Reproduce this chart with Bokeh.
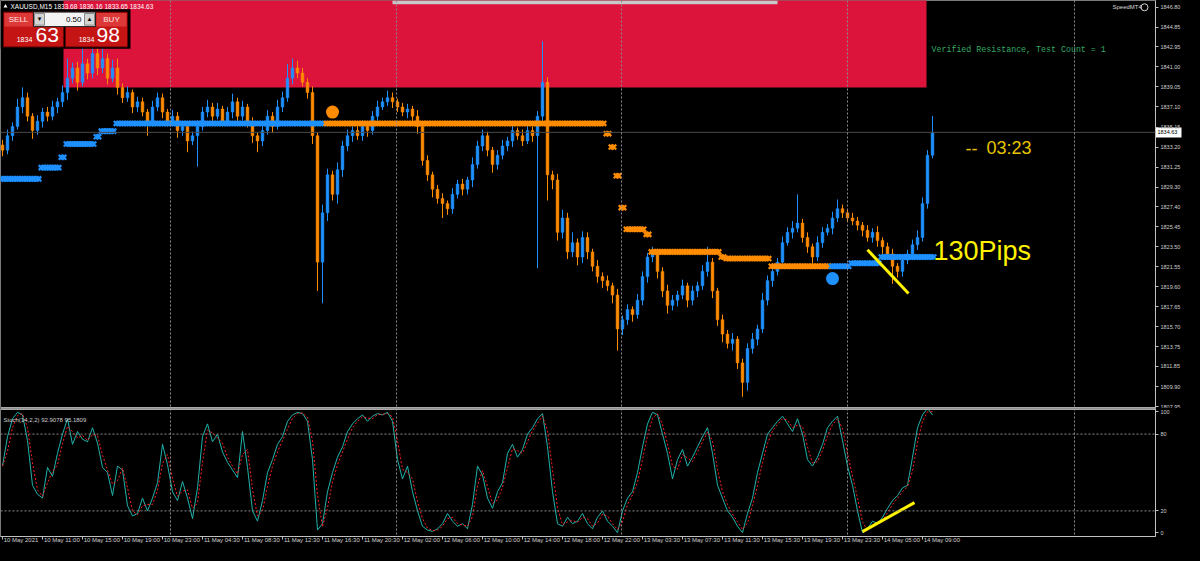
from bokeh.plotting import figure
from bokeh.layouts import column
from bokeh.models import (ColumnDataSource, Range1d, FixedTicker, NumeralTickFormatter, Label,
                          Span, LinearAxis)
from bokeh.core.properties import value
from bokeh.embed import file_html
from bokeh.resources import INLINE

# ---------------- data ----------------
symbol_header = "XAUUSD,M15  1833.68 1836.16 1833.65 1834.63"
first_open = 1833.4
close = [
    1832.9, 1834.3, 1835.2, 1837.1, 1838.0, 1836.2, 1834.8, 1835.7, 1836.6, 1836.2,
    1837.1, 1837.6, 1838.5, 1839.9, 1840.9, 1839.5, 1841.3, 1840.4, 1842.3, 1840.9,
    1841.8, 1839.9, 1840.9, 1839.0, 1838.0, 1838.5, 1837.1, 1837.6, 1836.6, 1835.7,
    1837.1, 1838.0, 1836.6, 1835.7, 1836.2, 1834.8, 1835.2, 1833.8, 1834.3, 1835.2,
    1836.6, 1837.1, 1836.2, 1836.9, 1835.7, 1836.6, 1837.6, 1836.2, 1837.1, 1835.7,
    1834.3, 1833.8, 1834.8, 1836.2, 1835.2, 1837.1, 1838.0, 1839.9, 1840.9, 1840.4,
    1839.5, 1838.5, 1834.3, 1822.0, 1826.8, 1830.5, 1828.6, 1831.0, 1833.3, 1834.3,
    1834.8, 1834.3, 1835.2, 1834.8, 1836.2, 1837.1, 1837.6, 1838.0, 1837.6, 1837.1,
    1836.6, 1836.9, 1836.2, 1835.2, 1831.9, 1830.5, 1829.1, 1828.2, 1827.7, 1827.2,
    1828.6, 1829.6, 1829.1, 1830.0, 1831.5, 1833.3, 1834.3, 1832.9, 1831.5, 1832.4,
    1833.3, 1833.8, 1834.8, 1834.3, 1833.8, 1834.8, 1834.3, 1836.2, 1839.5, 1830.5,
    1830.0, 1824.9, 1826.3, 1823.0, 1823.9, 1822.5, 1824.4, 1823.0, 1821.6, 1820.6,
    1820.2, 1819.7, 1818.8, 1815.5, 1816.4, 1817.4, 1816.9, 1818.3, 1820.6, 1822.5,
    1823.0, 1821.1, 1819.2, 1817.8, 1818.3, 1818.8, 1819.7, 1818.3, 1819.2, 1819.7,
    1821.1, 1822.0, 1819.2, 1816.4, 1815.0, 1814.1, 1814.5, 1812.2, 1810.3, 1813.6,
    1814.5, 1815.5, 1818.3, 1820.2, 1821.1, 1822.0, 1823.9, 1824.9, 1825.3, 1825.8,
    1824.4, 1823.5, 1822.5, 1823.9, 1824.9, 1825.3, 1826.3, 1827.2, 1826.8, 1826.3,
    1826.0, 1825.6, 1825.1, 1824.4, 1824.9, 1824.1, 1823.5, 1822.8, 1821.6, 1821.1,
    1822.2, 1822.8, 1823.7, 1824.4, 1827.7, 1832.4, 1834.63,
]
wick_up = [
    0.5, 0.6, 0.4, 0.8, 1.0, 0.5, 0.3, 0.6, 0.4, 0.5,
    0.6, 0.4, 0.7, 1.9, 0.5, 0.6, 1.9, 0.5, 1.4, 0.6,
    1.4, 0.5, 0.8, 0.9, 0.4, 0.6, 0.3, 0.5, 0.4, 0.3,
    0.6, 0.5, 0.4, 0.3, 0.6, 0.4, 0.5, 0.3, 0.4, 0.6,
    0.5, 0.7, 0.4, 0.6, 0.3, 0.5, 0.8, 0.4, 0.6, 0.3,
    0.4, 0.3, 0.5, 0.6, 0.4, 0.7, 0.6, 1.4, 0.9, 0.7,
    0.5, 0.4, 0.6, 0.3, 0.8, 0.6, 0.4, 0.7, 0.5, 0.6,
    0.4, 0.5, 0.6, 0.4, 0.5, 0.6, 0.4, 0.7, 0.5, 0.3,
    0.4, 0.5, 0.3, 0.6, 0.4, 0.5, 0.3, 0.4, 0.5, 0.3,
    0.6, 0.4, 0.5, 0.3, 0.7, 0.5, 0.6, 0.4, 0.3, 0.5,
    0.6, 0.4, 0.5, 0.3, 0.6, 0.7, 0.4, 0.5, 4.0, 0.5,
    0.4, 0.6, 0.8, 0.5, 1.0, 0.4, 0.6, 0.5, 0.3, 0.6,
    0.4, 0.5, 0.3, 0.6, 0.4, 0.5, 0.3, 0.6, 0.5, 0.4,
    0.5, 0.3, 0.4, 0.6, 0.5, 0.4, 0.6, 0.3, 0.5, 0.4,
    0.6, 1.5, 0.4, 0.3, 0.5, 0.4, 0.6, 0.3, 0.4, 0.5,
    0.6, 0.4, 0.7, 0.5, 0.8, 0.4, 0.6, 0.5, 0.7, 2.8,
    0.4, 0.5, 0.3, 0.6, 0.5, 0.4, 0.6, 0.9, 0.4, 0.3,
    0.5, 0.4, 0.3, 0.5, 0.4, 0.6, 0.3, 0.4, 0.5, 0.3,
    0.6, 0.4, 0.5, 0.7, 0.6, 0.5, 1.6,
]
wick_dn = [
    0.6, 0.4, 0.5, 0.3, 0.6, 0.5, 0.8, 0.4, 0.6, 0.5,
    0.4, 0.6, 0.5, 0.7, 0.5, 0.8, 0.4, 0.6, 0.5, 0.7,
    0.5, 0.6, 0.4, 0.7, 0.5, 0.4, 0.6, 0.5, 0.4, 1.4,
    0.5, 0.4, 0.6, 0.5, 0.4, 0.7, 0.5, 1.1, 0.4, 3.0,
    0.4, 0.5, 0.6, 0.3, 0.5, 0.4, 0.6, 0.5, 0.4, 0.6,
    0.7, 1.1, 0.5, 0.4, 0.6, 0.3, 0.5, 0.4, 0.6, 0.5,
    0.4, 0.6, 0.8, 2.8, 4.0, 0.8, 0.6, 0.9, 0.7, 0.5,
    0.6, 0.4, 0.5, 0.6, 0.4, 0.5, 0.3, 0.4, 0.6, 0.5,
    0.4, 0.6, 0.5, 0.7, 0.5, 0.6, 0.8, 0.5, 1.4, 0.6,
    0.5, 0.4, 0.6, 0.5, 0.7, 0.4, 0.5, 0.6, 0.8, 0.5,
    0.4, 0.5, 0.6, 0.4, 0.5, 0.3, 0.6, 12.9, 0.5, 2.5,
    0.9, 0.8, 0.6, 0.7, 0.5, 0.8, 0.6, 0.7, 0.5, 0.6,
    0.7, 0.5, 0.8, 2.1, 0.6, 0.5, 0.7, 0.4, 0.5, 0.6,
    0.5, 0.7, 0.6, 0.8, 0.5, 0.6, 0.4, 0.7, 0.5, 0.6,
    0.4, 0.5, 0.7, 0.6, 0.8, 0.5, 0.7, 0.6, 1.4, 0.8,
    0.5, 0.6, 0.4, 0.5, 0.6, 0.4, 0.5, 0.3, 0.6, 0.4,
    0.5, 0.6, 0.7, 0.4, 0.5, 0.3, 0.6, 0.4, 0.5, 0.3,
    0.4, 0.5, 0.6, 0.4, 0.5, 0.6, 0.7, 0.5, 1.7, 0.6,
    0.5, 0.4, 0.6, 0.5, 0.4, 0.5, 0.3,
]
# trailing-stop "x" line: (first bar, last bar, level, trend)
stop_segments = [
    (0, 7, 1830.1, "up"), (8, 11, 1831.2, "up"), (12, 12, 1832.2, "up"),
    (13, 18, 1833.5, "up"), (19, 19, 1834.2, "up"), (20, 22, 1834.75, "up"),
    (23, 64, 1835.5, "up"), (65, 120, 1835.5, "down"), (121, 121, 1834.5, "down"),
    (122, 122, 1833.2, "down"), (123, 123, 1830.4, "down"), (124, 124, 1827.3, "down"),
    (125, 128, 1825.2, "down"), (129, 129, 1824.7, "down"), (130, 143, 1823.0, "down"),
    (144, 144, 1822.5, "down"), (145, 153, 1822.35, "down"), (154, 165, 1821.6, "down"),
    (166, 169, 1821.6, "up"), (170, 175, 1821.9, "up"), (176, 186, 1822.5, "up"),
]
signal_bars = [66, 166]
signal_prices = [1836.6, 1820.4]
signal_trend = ["down", "up"]
zone_first_bar, zone_last_bar = 12.2, 184.8
zone_low, zone_high = 1839.0, 1850.0
trendline_bars = [173, 181.2]
trendline_prices = [1823.2, 1818.95]
stoch_k = [
    55, 78, 92, 97, 95, 75, 40, 33, 30, 54,
    47, 65, 80, 92, 72, 82, 76, 74, 85, 73,
    54, 50, 32, 55, 52, 24, 16, 18, 30, 20,
    30, 42, 72, 56, 35, 28, 43, 30, 14, 38,
    78, 88, 74, 80, 66, 58, 52, 46, 82, 54,
    20, 12, 28, 50, 60, 72, 78, 90, 95, 97,
    96, 90, 60, 5, 10, 35, 50, 62, 70, 82,
    88, 92, 95, 90, 94, 96, 95, 97, 90, 60,
    45, 55, 35, 20, 8, 5, 4, 6, 10, 18,
    12, 8, 10, 6, 25, 55, 48, 30, 22, 35,
    42, 65, 72, 62, 68, 80, 85, 92, 96, 70,
    35, 10, 8, 15, 10, 12, 18, 10, 6, 15,
    20, 12, 8, 3, 20, 30, 35, 50, 70, 88,
    97, 95, 80, 65, 45, 60, 68, 55, 62, 70,
    78, 85, 65, 40, 30, 20, 15, 8, 3, 18,
    30, 50, 65, 80, 85, 90, 94, 88, 82, 92,
    80, 60, 55, 62, 72, 85, 90, 94, 75, 55,
    40, 20, 3, 6, 12, 10, 15, 22, 28, 32,
    38, 40, 62, 85, 95, 100, 95,
]
stoch_trend_bars = [172, 182.4]
stoch_trend_values = [3.8, 26.5]
day_separator_bars = [33.6, 78.8, 123.8, 169.0, 214.4]
price_ticks = [1807.95, 1809.90, 1811.85, 1813.75, 1815.70, 1817.65, 1819.60, 1821.55,
               1823.50, 1825.45, 1827.40, 1829.30, 1831.25, 1833.20, 1835.15, 1837.10,
               1839.05, 1841.00, 1842.95, 1844.85, 1846.80]
time_tick_bars = list(range(0, 185, 8))
time_labels = ["10 May 2021", "10 May 11:00", "10 May 15:00", "10 May 19:00", "10 May 23:00",
               "11 May 04:30", "11 May 08:30", "11 May 12:30", "11 May 16:30", "11 May 20:30",
               "12 May 02:00", "12 May 06:00", "12 May 10:00", "12 May 14:00", "12 May 18:00",
               "12 May 22:00", "13 May 03:30", "13 May 07:30", "13 May 11:30", "13 May 15:30",
               "13 May 19:30", "13 May 23:30", "14 May 05:00", "14 May 09:00"]

UP, DOWN = "#1E90FF", "#FF8C00"
FONT = value("Liberation Sans")
AXC = "#d0d0d0"
W_TOTAL, RIGHT_BORDER = 1184, 29
FRAME_W = 1145          # frame width after Bokeh sizes the price scale
X0, X1 = -0.4, 230.6
PX_PER_BAR = FRAME_W / (X1 - X0)
PRICE_AXIS_W = 28

# ---------------- derived ----------------
n = len(close)
bars = list(range(n))
opens = [first_open] + close[:-1]
tops = [max(o, c) for o, c in zip(opens, close)]
bots = [min(o, c) for o, c in zip(opens, close)]
highs = [t + w for t, w in zip(tops, wick_up)]
lows = [b - w for b, w in zip(bots, wick_dn)]
ccol = [UP if c >= o else DOWN for o, c in zip(opens, close)]
candles = ColumnDataSource(dict(x=bars, top=tops, bottom=bots, high=highs, low=lows, color=ccol))

# each 30-min slot holds two M15 stop markers
st_x, st_y, st_c = [], [], []
for a, b, lvl, tr in stop_segments:
    for i in range(a, b + 1):
        for h in (-0.25, 0.25):
            st_x.append(i + h); st_y.append(lvl); st_c.append(UP if tr == "up" else DOWN)

stoch_d = [(stoch_k[max(i - 1, 0)] + stoch_k[i]) / 2 for i in range(n)]

XR = Range1d(X0, X1)

def rx(px):  # reference-pixel helpers for panel chrome
    return (px - 2) / 5.0

def ry(py):
    return 1847.46 - py / 10.63

def style_axis(ax):
    ax.axis_line_color = "#c0c0c0"
    ax.major_tick_line_color = "#c0c0c0"
    ax.major_tick_out = 3
    ax.major_tick_in = 0
    ax.minor_tick_line_color = None
    ax.major_label_text_color = AXC
    ax.major_label_text_font_size = "5.5px"
    ax.major_label_text_font = "Liberation Sans"
    ax.major_label_standoff = 2

# ---------------- main price panel ----------------
p = figure(width=W_TOTAL, height=408, x_range=XR, y_range=Range1d(1807.76, 1847.46),
           output_backend="svg", toolbar_location=None, x_axis_location=None,
           y_axis_location="right", background_fill_color="black", border_fill_color="black",
           min_border_left=0, min_border_right=RIGHT_BORDER, min_border_top=0, min_border_bottom=0)
p.grid.visible = False
p.outline_line_color = "#7a7a7a"
ya = p.yaxis[0]
ya.ticker = FixedTicker(ticks=price_ticks)
ya.formatter = NumeralTickFormatter(format="0.00")
style_axis(ya)

# current-price tag: white bar (inner axis, tick drawn outward) + black text (outer axis)
last = close[-1]
tag_box = LinearAxis(ticker=FixedTicker(ticks=[last]), major_label_overrides={last: ""})
tag_box.axis_line_color = None
tag_box.minor_tick_line_color = None
tag_box.major_tick_line_color = "white"
tag_box.major_tick_line_width = 10
tag_box.major_tick_in = -26
tag_box.major_tick_out = 0
tag_box.major_label_standoff = 0
tag_box.major_label_text_font_size = "1px"
tag_txt = LinearAxis(ticker=FixedTicker(ticks=[last]), major_label_overrides={last: "%.2f" % last})
tag_txt.axis_line_color = None
tag_txt.minor_tick_line_color = None
tag_txt.major_tick_line_color = None
tag_txt.major_tick_in = 0
tag_txt.major_tick_out = 0
tag_txt.major_label_standoff = 2 - PRICE_AXIS_W
tag_txt.major_label_text_color = "black"
tag_txt.major_label_text_font_size = "5.5px"
tag_txt.major_label_text_font = "Liberation Sans"
p.right = [tag_box, ya, tag_txt]

p.quad(left=zone_first_bar, right=zone_last_bar, bottom=zone_low, top=zone_high,
       fill_color="#DC143C", line_color=None)
p.add_layout(Span(location=last, dimension="width", line_color="#4a4a4a", line_width=1))
for b in day_separator_bars:
    p.add_layout(Span(location=b, dimension="height", line_color="#8a8a8a",
                      line_dash="2 2", line_width=1))
p.add_layout(Span(location=1807.76, dimension="width", line_color="#a8a8a8", line_width=3))

p.segment(x0="x", y0="low", x1="x", y1="high", color="color", line_width=1, source=candles)
p.vbar(x="x", width=0.55, top="top", bottom="bottom", fill_color="color",
       line_color="color", line_width=0.5, source=candles)

p.scatter(st_x, st_y, marker="x", size=7, line_color=st_c, line_width=2.3)
p.scatter(signal_bars, signal_prices, marker="circle", size=13,
          fill_color=[UP if t == "up" else DOWN for t in signal_trend], line_color=None)
p.line(trendline_bars, trendline_prices, line_color="#FFF200", line_width=3)

p.text(x=[rx(931)], y=[ry(51)], text=["Verified Resistance, Test Count = 1"],
       text_font=value("Liberation Mono"), text_font_size="8.3px", text_color="#34A865",
       text_baseline="middle")
p.text(x=[rx(933)], y=[ry(259)], text=["130Pips"], text_font=FONT, text_font_size="27px",
       text_color="#FFF200", text_baseline="alphabetic")
p.text(x=[rx(965)], y=[ry(153)], text=["--"], text_font=FONT, text_font_size="18px",
       text_color="#E8C400", text_baseline="middle")
p.text(x=[rx(986)], y=[ry(153)], text=["03:23"], text_font=FONT, text_font_size="18px",
       text_color="#E8C400", text_baseline="middle")

# top bar and SpeedMT4 tag
p.quad(left=rx(392), right=rx(777), top=ry(0), bottom=ry(4), fill_color="#c8c8c8", line_color=None)
p.text(x=[rx(1112)], y=[ry(7)], text=["SpeedMT4"], text_font=FONT, text_font_size="6px",
       text_color="#d8d8d8", text_baseline="middle")
p.scatter([rx(1144)], [ry(7)], marker="circle", size=7, fill_color=None, line_color="#d8d8d8")

# one-click trading widget
p.quad(left=rx(0), right=rx(130), top=ry(9), bottom=ry(50), fill_color="black", line_color=None)
p.quad(left=[rx(3), rx(65)], right=[rx(63), rx(127)], top=ry(12), bottom=ry(48),
       fill_color="#C41414", line_color="#6a0000")
p.quad(left=[rx(4), rx(96)], right=[rx(32), rx(126)], top=ry(13), bottom=ry(27),
       fill_color="#DD3838", line_color=None)
p.quad(left=rx(33), right=rx(95), top=ry(12), bottom=ry(27), fill_color="#F4F4F4", line_color="#202020")
p.quad(left=[rx(34), rx(84)], right=[rx(44), rx(94)], top=ry(13.5), bottom=ry(25.5),
       fill_color="#D4D4D4", line_color="#8a8a8a")
p.text(x=[rx(39), rx(89)], y=[ry(19.5), ry(19.5)], text=["▾", "▴"], text_font=value("DejaVu Sans"),
       text_font_size="7px", text_color="black", text_align="center", text_baseline="middle")
p.text(x=[rx(81)], y=[ry(19.5)], text=["0.50"], text_font=FONT, text_font_size="8px",
       text_color="black", text_align="right", text_baseline="middle")
p.text(x=[rx(18), rx(111)], y=[ry(19.5), ry(19.5)], text=["SELL", "BUY"], text_font=FONT,
       text_font_size="8px", text_color="#ffe6e6", text_align="center", text_baseline="middle")
p.text(x=[rx(24), rx(86)], y=[ry(40), ry(40)], text=["1834", "1834"], text_font=FONT,
       text_font_size="7px", text_color="white", text_align="center", text_baseline="middle")
p.text(x=[rx(35), rx(96)], y=[ry(36), ry(36)], text=["63", "98"], text_font=FONT,
       text_font_size="21px", text_color="white", text_align="left", text_baseline="middle")
p.scatter([rx(5)], [ry(6)], marker="triangle", size=4, fill_color="white", line_color=None)
p.text(x=[rx(10)], y=[ry(6)], text=[symbol_header], text_font=FONT, text_font_size="6.5px",
       text_color="white", text_baseline="middle")

# ---------------- stochastic panel ----------------
s = figure(width=W_TOTAL, height=137, x_range=XR, y_range=Range1d(0, 100),
           output_backend="svg", toolbar_location=None, x_axis_location="below",
           y_axis_location="right", background_fill_color="black", border_fill_color="black",
           min_border_left=0, min_border_right=RIGHT_BORDER, min_border_top=0, min_border_bottom=0)
s.grid.visible = False
s.outline_line_color = "#7a7a7a"
sy_ax = s.yaxis[0]
sy_ax.ticker = FixedTicker(ticks=[3, 20, 80, 97.5])
sy_ax.major_label_overrides = {3: "0", 20: "20", 80: "80", 97.5: "100"}
style_axis(sy_ax)

# time axis: tick marks on the first axis, left-aligned labels on a second one
tx = s.xaxis[0]
tx.ticker = FixedTicker(ticks=time_tick_bars)
tx.major_label_overrides = {b: "" for b in time_tick_bars}
style_axis(tx)
tx.major_label_text_font_size = "1px"
tx.major_label_standoff = 0

CW = {" ": 0.278, "M": 0.833, "a": 0.556, "y": 0.5, ":": 0.278}
def label_width_px(t, size=6.0):
    return sum(CW.get(ch, 0.556) for ch in t) * size

centers = [b + (label_width_px(t) / 2 + 1) / PX_PER_BAR for b, t in zip(time_tick_bars, time_labels)]
lx = LinearAxis(ticker=FixedTicker(ticks=centers),
                major_label_overrides={c: t for c, t in zip(centers, time_labels)})
lx.axis_line_color = None
lx.major_tick_line_color = None
lx.minor_tick_line_color = None
lx.major_tick_out = 0
lx.major_tick_in = 0
lx.major_label_text_color = AXC
lx.major_label_text_font_size = "6px"
lx.major_label_text_font = "Liberation Sans"
lx.major_label_standoff = -3
s.add_layout(lx, "below")

for lvl in (80, 20):
    s.add_layout(Span(location=lvl, dimension="width", line_color="#8a8a8a",
                      line_dash="2 2", line_width=1))
for b in day_separator_bars:
    s.add_layout(Span(location=b, dimension="height", line_color="#8a8a8a",
                      line_dash="2 2", line_width=1))
s.add_layout(Span(location=100, dimension="width", line_color="#a8a8a8", line_width=3))

s.line(bars, stoch_k, line_color="#20B2AA", line_width=1)
s.line(bars, stoch_d, line_color="#FF2020", line_width=1, line_dash="2 2")
s.line(stoch_trend_bars, stoch_trend_values, line_color="#FFF200", line_width=3)

s.add_layout(Label(x=rx(3), y=91, text="Stoch(14,2,2) 92.9078 95.1809", text_font="Liberation Sans",
                   text_font_size="6px", text_color=AXC, text_baseline="middle"))

layout = column(p, s, spacing=0, background="black")
html = file_html(layout, INLINE)
html = html.replace("</head>", "<style>html,body{background:#000000;}</style></head>", 1)
open("out.html", "w").write(html)
